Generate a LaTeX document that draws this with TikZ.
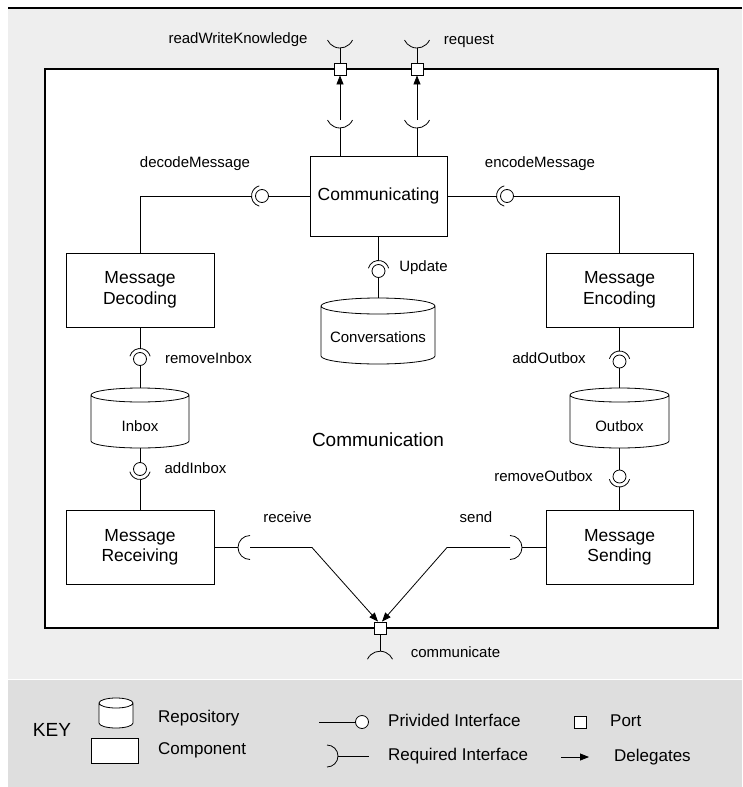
\documentclass[tikz,border=0pt]{standalone}
\usepackage{fontspec}
\setmainfont{Liberation Sans}
\usetikzlibrary{arrows.meta}
\definecolor{bglight}{HTML}{EEEEEE}
\definecolor{bgkey}{HTML}{DEDEDE}
\newcommand\mysock[4]{\draw[wire] (#1) ++(#2:#4) arc[start angle=#2,end angle=#3,radius=#4];}
\newcommand\mycyl[5]{\draw[wire,fill=white] (#1-#4,#2+#5) -- (#1-#4,#3-#5)
  arc[start angle=180,end angle=0,x radius=#4,y radius=#5] -- (#1+#4,#2+#5)
  arc[start angle=0,end angle=-180,x radius=#4,y radius=#5]
  arc[start angle=180,end angle=0,x radius=#4,y radius=#5];}
\begin{document}
\begin{tikzpicture}[x=1pt,y=-1pt,
 wire/.style={line width=0.8pt},
 comp/.style={draw, line width=0.8pt, fill=white, minimum width=148pt, minimum height=74pt, align=center, inner sep=0pt, font=\fontsize{17.5}{20.5}\selectfont},
 lbl/.style={inner sep=0pt, font=\fontsize{15}{18}\selectfont, text height=11pt, text depth=3pt},
 ball/.style={draw, line width=0.8pt, fill=white, circle, minimum size=13pt, inner sep=0pt},
 port/.style={draw, line width=0.8pt, fill=white, minimum size=12pt, inner sep=0pt},
 deleg/.style={wire, -{Triangle[length=9pt,width=7pt]}},
 cylbox/.style={inner sep=0pt},
 keytxt/.style={inner sep=0pt, anchor=west, font=\fontsize{17}{20}\selectfont, text height=12.5pt, text depth=3.5pt}
]
\useasboundingbox (0,0) rectangle (742,787);
\fill[bglight] (8,8) rectangle (742,679);
\fill[bgkey] (8,680) rectangle (742,787);
\draw[line width=1.5pt] (8,8) -- (742,8);
\node[draw, line width=1.1pt, fill=white, minimum width=673pt, minimum height=559pt, inner sep=0pt] (sys) at (381.5,348.5) {};

% components
\node[comp, minimum width=137pt, minimum height=80pt] (comm) at (378.5,196) {Communicating};
\node[comp] (mdec) at (140,290) {Message\\Decoding};
\node[comp, minimum width=147pt] (menc) at (619.5,290) {Message\\Encoding};
\node[comp] (mrec) at (140,547.5) {Message\\Receiving};
\node[comp, minimum width=147pt] (msend) at (619.5,547.5) {Message\\Sending};

% repositories
\mycyl{378}{298}{364}{57}{8}
\node[cylbox, minimum width=114pt, minimum height=66pt] (conv) at (378,331) {};
\node[lbl] (convt) at (378,338) {Conversations};
\mycyl{140}{388}{448}{49}{7}
\node[cylbox, minimum width=98pt, minimum height=60pt] (inbox) at (140,418) {};
\node[lbl] (inboxt) at (140,427) {Inbox};
\mycyl{619.5}{388}{448}{49.5}{7}
\node[cylbox, minimum width=99pt, minimum height=60pt] (outbox) at (619.5,418) {};
\node[lbl] (outboxt) at (619.5,427) {Outbox};

\node[inner sep=0pt, font=\fontsize{19}{22}\selectfont] (sysname) at (378,440) {Communication};

% top ports
\node[port] (tp1) at (340,69) {};
\node[port] (tp2) at (417,69) {};
\coordinate (c1o) at (340,34.2); \mysock{c1o}{25}{155}{13.8}
\coordinate (c1ob) at (340,48); \draw[wire] (c1ob) -- (tp1.north);
\coordinate (c2o) at (417,34.2); \mysock{c2o}{25}{155}{13.8}
\coordinate (c2ob) at (417,48); \draw[wire] (c2ob) -- (tp2.north);
\coordinate (c1i) at (340,114.2); \mysock{c1i}{25}{155}{13.8}
\coordinate (c1ib) at (340,128); \coordinate (c1it) at (340,120);
\draw[wire] (tp1 |- comm.north) -- (c1ib);
\draw[deleg] (c1it) -- (tp1.south);
\coordinate (c2i) at (417,114.2); \mysock{c2i}{25}{155}{13.8}
\coordinate (c2ib) at (417,128); \coordinate (c2it) at (417,120);
\draw[wire] (tp2 |- comm.north) -- (c2ib);
\draw[deleg] (c2it) -- (tp2.south);
\node[lbl] (rwk) at (238,39) {readWriteKnowledge};
\node[lbl] (req) at (469,40) {request};

% decodeMessage
\node[ball] (dball) at (262,196) {};
\mysock{dball.center}{105}{255}{10.5}
\coordinate (dsock) at (251.5,196);
\draw[wire] (comm.west) -- (dball.east);
\draw[wire] (dsock) -| (mdec.north);
\node[lbl] (dlbl) at (195,163) {decodeMessage};

% encodeMessage
\node[ball] (eball) at (507,196) {};
\mysock{eball.center}{105}{255}{10.5}
\coordinate (esock) at (496.5,196);
\draw[wire] (comm.east) -- (esock);
\draw[wire] (eball.east) -| (menc.north);
\node[lbl] (elbl) at (540,163) {encodeMessage};

% Update
\node[ball] (uball) at (378.5,271) {};
\mysock{uball.center}{195}{345}{10.5}
\coordinate (usock) at (378.5,260.5);
\draw[wire] (comm.south) -- (usock);
\draw[wire] (uball.south) -- (uball.south |- conv.north);
\node[lbl] (ulbl) at (423.5,267) {Update};

% removeInbox
\node[ball] (riball) at (140,359) {};
\mysock{riball.center}{195}{345}{10.5}
\coordinate (risock) at (140,348.5);
\draw[wire] (mdec.south) -- (risock);
\draw[wire] (riball.south) -- (inbox.north);
\node[lbl] (rilbl) at (208.5,359) {removeInbox};

% addInbox
\node[ball] (aiball) at (140,469) {};
\mysock{aiball.center}{15}{165}{10.5}
\coordinate (aisock) at (140,479.5);
\draw[wire] (inbox.south) -- (aiball.north);
\draw[wire] (aisock) -- (mrec.north);
\node[lbl] (ailbl) at (195.5,469) {addInbox};

% addOutbox
\node[ball] (aoball) at (619.5,361.5) {};
\mysock{aoball.center}{195}{345}{10.5}
\coordinate (aosock) at (619.5,351);
\draw[wire] (menc.south) -- (aosock);
\draw[wire] (aoball.south) -- (outbox.north);
\node[lbl] (aolbl) at (549,359) {addOutbox};

% removeOutbox
\node[ball] (roball) at (619.5,476.5) {};
\mysock{roball.center}{15}{165}{10.5}
\coordinate (rosock) at (619.5,487);
\draw[wire] (outbox.south) -- (roball.north);
\draw[wire] (rosock) -- (msend.north);
\node[lbl] (rolbl) at (543.5,477) {removeOutbox};

% bottom port
\node[port] (bp) at (380,628) {};
\coordinate (cb) at (380,665); \mysock{cb}{205}{335}{13.8}
\coordinate (cbt) at (380,651.2);
\draw[wire] (bp.south) -- (cbt);
\node[lbl] (comlbl) at (455.5,653) {communicate};

% receive
\coordinate (rsc) at (250,547.5); \mysock{rsc}{90}{270}{12}
\coordinate (rsl) at (238,547.5);
\draw[wire] (mrec.east) -- (rsl);
\coordinate (rbend) at (312,547.5);
\draw[deleg] (rsc) -- (rbend) -- ([xshift=-2pt]bp.north);
\node[lbl] (rlbl) at (287.5,518) {receive};

% send
\coordinate (ssc) at (510,547.5); \mysock{ssc}{-90}{90}{12}
\coordinate (ssr) at (522,547.5);
\draw[wire] (msend.west) -- (ssr);
\coordinate (sbend) at (447,547.5);
\draw[deleg] (ssc) -- (sbend) -- ([xshift=2pt]bp.north);
\node[lbl] (slbl) at (476,518) {send};

% key
\node[inner sep=0pt, font=\fontsize{19}{22}\selectfont] (keyt) at (52,730) {KEY};
\mycyl{116}{698}{728}{17}{5}
\node[cylbox, minimum width=34pt, minimum height=30pt] (keycyl) at (116,713) {};
\node[draw, line width=0.8pt, fill=white, minimum width=47pt, minimum height=25pt, inner sep=0pt] (keycomp) at (114.5,750.5) {};
\node[keytxt] (krep) at (158,718) {Repository};
\node[keytxt] (kcom) at (158,750) {Component};
\node[ball] (kball) at (362,722) {};
\coordinate (kpl) at (319,722);
\draw[wire] (kpl) -- (kball.west);
\node[keytxt] (kprov) at (388,722) {Privided Interface};
\coordinate (krc) at (327,756); \mysock{krc}{-90}{90}{11}
\coordinate (krr) at (338,756); \coordinate (kre) at (369,756);
\draw[wire] (krr) -- (kre);
\node[keytxt] (kreq) at (388,756) {Required Interface};
\node[port] (kport) at (580,722) {};
\node[keytxt] (kportt) at (610,722) {Port};
\coordinate (kd1) at (561,757); \coordinate (kd2) at (589,757);
\draw[deleg] (kd1) -- (kd2);
\node[keytxt] (kdel) at (614,757) {Delegates};
\end{tikzpicture}
\end{document}
